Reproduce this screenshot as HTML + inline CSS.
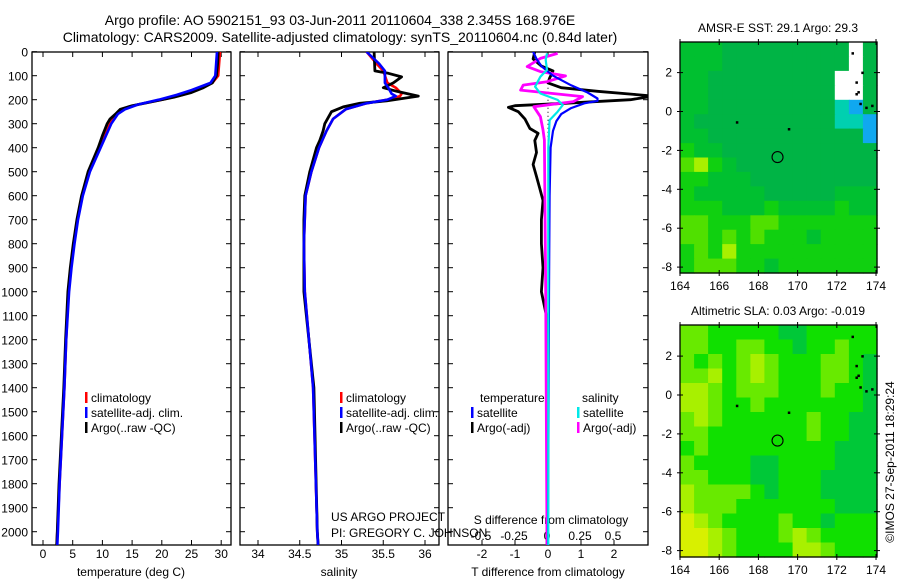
<!DOCTYPE html>
<html><head><meta charset="utf-8"><style>
html,body{margin:0;padding:0;background:#fff}
svg{display:block;font-family:"Liberation Sans",Arial,sans-serif}
</style></head><body>
<svg id="c" width="900" height="580" viewBox="0 0 900 580" xmlns="http://www.w3.org/2000/svg">
<rect width="900" height="580" fill="#fff"/>
<text x="340" y="25" font-size="14" text-anchor="middle">Argo profile: AO 5902151_93 03-Jun-2011 20110604_338 2.345S 168.976E</text>
<text x="340" y="42" font-size="14" text-anchor="middle">Climatology: CARS2009. Satellite-adjusted climatology: synTS_20110604.nc (0.84d later)</text>
<g id="g"></g>
</svg>
<script>
// ---------- data ----------
const depthTicks=[0,100,200,300,400,500,600,700,800,900,1000,1100,1200,1300,1400,1500,1600,1700,1800,1900,2000];
const tTicks=[0,5,10,15,20,25,30];
const sTicks=[34,34.5,35,35.5,36];
const dtTicks=[-2,-1,0,1,2];
const dsTicks=[-0.5,-0.25,0,0.25,0.5];
const dsTickLabels=["-0.5","-0.25","0","0.25","0.5"];
// temperature profiles
const tArgoD=[0,50,100,130,150,170,190,210,225,240,260,280,300,350,400,500,600,700,800,900,1000,1200,1400,1600,1800,2000,2055];
const tArgoV=[29.5,29.4,29.2,28.5,27,25,22,18,15,13,12.2,11.3,10.8,10,9.3,7.6,6.5,5.7,5.1,4.6,4.2,3.8,3.5,3.1,2.7,2.4,2.3];
const tClimD=[0,100,130,160,180,200,220,240,260,300,400,500,600,700,800,900,1000,1200,1400,1600,1800,2000,2055];
const tClimV=[29.8,29.5,28.5,25.5,23.5,20,16,13.5,12.3,11.3,9.6,7.8,6.6,5.8,5.2,4.7,4.3,3.9,3.6,3.2,2.8,2.4,2.3];
const tSatV=[29.3,29.0,28.2,25,22.5,19.5,16,13.8,12.6,11.5,9.7,7.9,6.7,5.9,5.3,4.8,4.4,3.9,3.6,3.2,2.8,2.5,2.4];
// salinity profiles
const sArgoD=[0,80,90,105,130,150,165,185,205,215,230,250,300,330,370,400,500,600,700,1000,1400,2000,2055];
const sArgoV=[35.39,35.4,35.56,35.72,35.62,35.5,35.66,35.92,35.54,35.22,35.02,34.88,34.8,34.78,34.74,34.7,34.62,34.56,34.55,34.55,34.67,34.71,34.72];
const sClimD=[0,50,80,130,150,175,185,200,215,240,280,330,400,500,600,800,1000,1400,2000,2055];
const sClimV=[35.3,35.42,35.5,35.55,35.65,35.72,35.7,35.55,35.3,35.05,34.9,34.82,34.73,34.64,34.57,34.55,34.56,34.66,34.71,34.72];
const sSatV=[35.3,35.45,35.52,35.52,35.56,35.6,35.65,35.55,35.3,35.05,34.9,34.82,34.73,34.64,34.57,34.55,34.56,34.66,34.71,34.72];
// difference profiles
const dtArgoD=[0,30,60,80,110,130,150,165,178,185,200,215,225,232,250,280,320,340,370,420,470,520,570,620,700,800,900,1000,1100,1300,1600,2000,2055];
const dtArgoV=[-0.4,-0.45,-0.2,0.15,0.05,0,0.4,1.5,2.6,3.2,2.5,0.5,-1.0,-1.2,-0.9,-0.7,-0.55,-0.3,-0.4,-0.35,-0.45,-0.35,-0.25,-0.15,-0.2,-0.2,-0.15,-0.2,-0.05,-0.05,-0.03,-0.03,-0.03];
const dtSatD=[0,30,60,100,140,170,195,205,215,235,260,290,330,400,600,1000,2055];
const dtSatV=[-0.45,-0.35,-0.2,0.15,0.7,1.2,1.5,1.5,1.1,0.7,0.4,0.25,0.15,0.08,0.05,0.03,0];
const dsSatD=[7,34,76,104,146,174,201,222,250,285,400,1000,2055];
const dsSatV=[0,-0.01,0,-0.05,-0.09,-0.05,0.08,0.12,0.08,0.02,0.01,0.01,0.01];
const dsArgoD=[7,28,62,83,101,125,139,160,187,208,229,271,326,368,1000,2055];
const dsArgoV=[0.08,-0.05,-0.15,-0.05,0.14,0,-0.18,-0.2,0.27,0.2,-0.1,-0.05,-0.03,-0.02,-0.01,0];
// maps
const lonTicks=[164,166,168,170,172,174];
const latTicks=[2,0,-2,-4,-6,-8];
const sstGrid=["bbbaaaaaaaaawa","bbbaaaaaaaaawa","bbaaaaaaaaawwa","bbaaaaaaaaawwa","bbaaaaaaaaafga","baaaaaaaaaaffg","bbaaaaaaaaaaag","cbbaaaaaaaaaaa","decbaaaaaaaaaa","ccbbbaaaaaaaaa","cbbbbbaaaaabbb","cccbbbcbbbbcbb","ddcccddccccccc","ddcdcdcccbcccc","cdceccccccccccc","cdddccbccccccc"];
const sstColors={a:"#00b445",b:"#00c030",c:"#10d010",d:"#50e000",e:"#a8f000",w:"#ffffff",f:"#00d0b0",g:"#10a8f0"};
const slaGrid=["ddcccccGGccccc","ddccddccGccdcc","dcdcdedcccddcG","ddecdedcccddcG","eedcdddcccdccG","eedccdcccccccG","dedccccccdccGG","ddcccccccdccGG","cdcccccccccGGG","dccccGGccccGGG","ddcccGGcccGGGG","eddddcGcccGGGG","edddcccccccGGGG","yedccccdccGccc","yyedcccdedcccc","yyedcccceedccc"];
const slaColors={G:"#00c838",c:"#10e000",d:"#68ea00",e:"#a8f000",y:"#d8f000"};
const argoLon=168.976, argoLat=-2.345;
const islands=[[166.9,-0.55],[169.55,-0.9],[172.8,3.0],[173.0,1.5],[173.1,1.0],[173.3,2.0],[173.0,0.9],[173.5,0.2],[173.8,0.3],[173.2,0.4]];

// ---------- helpers ----------
const NS="http://www.w3.org/2000/svg";
const G=document.getElementById('g');
function el(tag,attrs,parent){const e=document.createElementNS(NS,tag);for(const k in attrs)e.setAttribute(k,attrs[k]);(parent||G).appendChild(e);return e;}
function txt(x,y,s,attrs){const e=el('text',Object.assign({x:x,y:y,'font-size':12},attrs||{}));e.textContent=s;return e;}
const Y0=51.7, YPX=0.24;
function yD(d){return Y0+d*YPX;}
const PT=52, PB=545;
function xT(t){return 43+t*5.94;}
function xS(s){return 258+(s-34)*83.5;}
function xDT(t){return 548+t*33;}
function xDS(s){return 547+s*132;}
function line(ds,vs,xf,color,name,w,clip){
  const pts=ds.map((d,i)=>xf(vs[i]).toFixed(1)+","+yD(d).toFixed(1)).join(" ");
  const p=el('polyline',{points:pts,fill:'none',stroke:color,'stroke-width':w||2.6,'stroke-linejoin':'round','clip-path':clip});
  
  
  return p;
}
function panel(x0,x1,name,clipId){
  const cp=el('clipPath',{id:clipId});el('rect',{x:x0,y:PT,width:x1-x0,height:PB-PT},cp);
  const r=el('rect',{x:x0,y:PT,width:x1-x0,height:PB-PT,fill:'none',stroke:'#000','stroke-width':1.3});
  
  
  depthTicks.forEach(d=>{el('line',{x1:x0,x2:x0+5,y1:yD(d),y2:yD(d),stroke:'#000'});el('line',{x1:x1-5,x2:x1,y1:yD(d),y2:yD(d),stroke:'#000'});});
}
function xticks(vals,xf,labels,y,name){
  vals.forEach((v,i)=>{const x=xf(v);
    el('line',{x1:x,x2:x,y1:PT,y2:PT+5,stroke:'#000'});el('line',{x1:x,x2:x,y1:PB-5,y2:PB,stroke:'#000'});
    const t=txt(x,y,labels?labels[i]:String(v),{'text-anchor':'middle'});
    
    
  });
}
function legendEntry(x,y,color,label,name){
  el('rect',{x:x,y:y-10,width:2.5,height:11,fill:color});
  const t=txt(x+6,y,label);
  
  
}

// ---------- panel 1: temperature ----------
panel(32,231,'temperature-panel','c1');
depthTicks.forEach(d=>{const t=txt(28,yD(d)+5,String(d),{'text-anchor':'end'});
  
  });
xticks(tTicks,xT,null,558,'temperature-tick-label');
txt(131,576,'temperature (deg C)',{'text-anchor':'middle'});
line(tClimD,tClimV,xT,'#ff0000','climatology-temperature-line',2.6,'url(#c1)');
line(tArgoD,tArgoV,xT,'#000000','argo-temperature-line',2.8,'url(#c1)');
line(tClimD,tSatV,xT,'#0000ff','satellite-temperature-line',2.6,'url(#c1)');
legendEntry(85,402,'#ff0000','climatology','legend-climatology');
legendEntry(85,417,'#0000ff','satellite-adj. clim.','legend-satellite');
legendEntry(85,432,'#000000','Argo(..raw -QC)','legend-argo');

// ---------- panel 2: salinity ----------
panel(240,439,'salinity-panel','c2');
xticks(sTicks,xS,null,558,'salinity-tick-label');
txt(339,576,'salinity',{'text-anchor':'middle'});
line(sClimD,sClimV,xS,'#ff0000','climatology-salinity-line',2.6,'url(#c2)');
line(sArgoD,sArgoV,xS,'#000000','argo-salinity-line',2.8,'url(#c2)');
line(sClimD,sSatV,xS,'#0000ff','satellite-salinity-line',2.6,'url(#c2)');
legendEntry(340,402,'#ff0000','climatology','legend-climatology');
legendEntry(340,417,'#0000ff','satellite-adj. clim.','legend-satellite');
legendEntry(340,432,'#000000','Argo(..raw -QC)','legend-argo');
txt(331,521,'US ARGO PROJECT');
txt(331,537,'PI: GREGORY C. JOHNSON');

// ---------- panel 3: differences ----------
panel(448,648,'difference-panel','c3');
xticks(dtTicks,xDT,null,558,'t-difference-tick-label');
dsTicks.forEach((v,i)=>{const t=txt(xDS(v),540,dsTickLabels[i],{'text-anchor':'middle'});
  
  });
txt(551,524,'S difference from climatology',{'text-anchor':'middle'});
txt(548,576,'T difference from climatology',{'text-anchor':'middle'});
el('line',{x1:548,x2:548,y1:yD(150),y2:yD(400),stroke:'#000','stroke-dasharray':'1,3'});
line(dtArgoD,dtArgoV,xDT,'#000000','argo-t-difference-line',2.8,'url(#c3)');
line(dsArgoD,dsArgoV,xDS,'#ff00ff','argo-s-difference-line',2.8,'url(#c3)');
line(dtSatD,dtSatV,xDT,'#0000ff','satellite-t-difference-line',2.2,'url(#c3)');
line(dsSatD,dsSatV,xDS,'#00e8e8','satellite-s-difference-line',2.2,'url(#c3)');
txt(480,402,'temperature');
txt(582,402,'salinity');
legendEntry(471,417,'#0000ff','satellite','legend-t-satellite');
legendEntry(471,432,'#000000','Argo(-adj)','legend-t-argo');
legendEntry(577,417,'#00e8e8','satellite','legend-s-satellite');
legendEntry(577,432,'#ff00ff','Argo(-adj)','legend-s-argo');

// ---------- maps ----------
function map(top,bottom,lat0y,grid,colors,title,name){
  const L=680,R=877,lonX=l=>L+(l-164)*(R-L)/10.05, latY=a=>lat0y-a*19.45;
  const rows=grid.length, cols=grid[0].length, cw=(R-L)/cols, ch=(bottom-top)/rows;
  const g=el('g',{});
  
  
  grid.forEach((row,r)=>{for(let c=0;c<cols;c++){
    const cell=el('rect',{x:(L+c*cw).toFixed(1),y:(top+r*ch).toFixed(1),width:(cw+0.6).toFixed(1),height:(ch+0.6).toFixed(1),fill:colors[row[c]]||colors.c},g);
    
  }});
  islands.forEach(p=>el('rect',{x:lonX(p[0])-1,y:latY(p[1])-1,width:2.5,height:2.5,fill:'#000'},g));
  const ring=el('circle',{cx:lonX(argoLon),cy:latY(argoLat),r:5.5,fill:'none',stroke:'#000','stroke-width':1.1},g);
  
  
  el('rect',{x:L,y:top,width:R-L,height:bottom-top,fill:'none',stroke:'#000','stroke-width':1.3});
  lonTicks.forEach(l=>{const x=lonX(l);el('line',{x1:x,x2:x,y1:top-3,y2:top+3,stroke:'#000'});el('line',{x1:x,x2:x,y1:bottom-3,y2:bottom+3,stroke:'#000'});
    const t=txt(x,bottom+17,String(l),{'text-anchor':'middle'});});
  latTicks.forEach(a=>{const y=latY(a);el('line',{x1:L-3,x2:L+3,y1:y,y2:y,stroke:'#000'});el('line',{x1:R-3,x2:R+3,y1:y,y2:y,stroke:'#000'});
    const t=txt(672,y+4,String(a),{'text-anchor':'end'});});
  const tt=txt(778,top-10,title,{'text-anchor':'middle'});
  
}
map(42,273,111.5,sstGrid,sstColors,'AMSR-E SST: 29.1 Argo: 29.3','sst-map');
map(325,557,395,slaGrid,slaColors,'Altimetric SLA: 0.03 Argo: -0.019','sla-map');
const stamp=txt(0,0,'©IMOS 27-Sep-2011 18:29:24',{'text-anchor':'middle',transform:'translate(894,462) rotate(-90)'});


</script>
</body></html>
